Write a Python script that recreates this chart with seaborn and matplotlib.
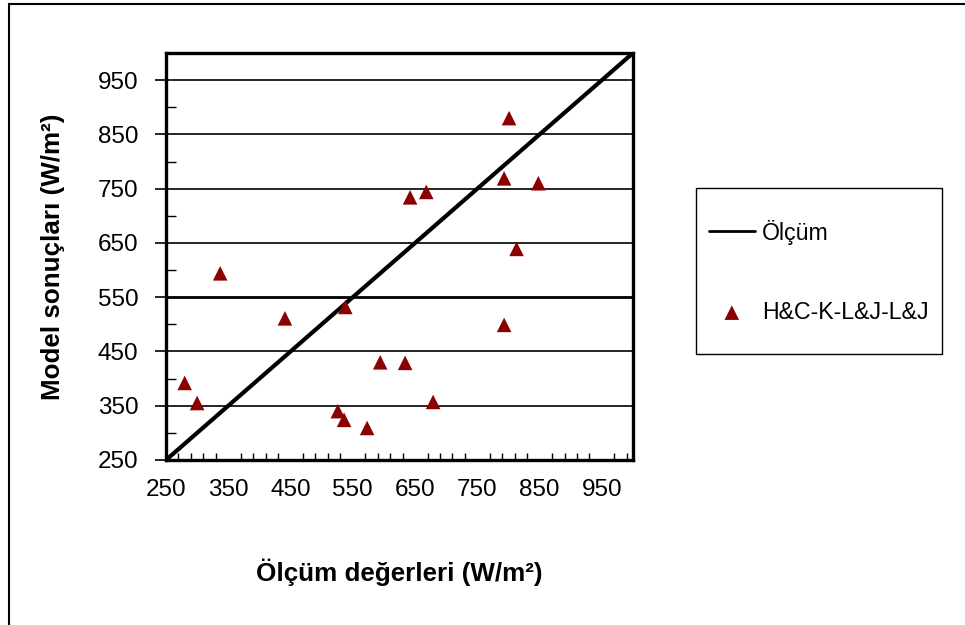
import matplotlib
matplotlib.use("Agg")
import matplotlib.pyplot as plt
import seaborn as sns
import numpy as np
import pandas as pd
from matplotlib.patches import Rectangle
from matplotlib.ticker import FixedLocator

# ---- data ----
olcum_degerleri = [280, 300, 337, 441, 538, 526, 536, 573, 594, 634, 679, 642, 668, 793, 801, 813, 848, 793]
model_sonuclari = [392, 355, 594, 511, 532, 340, 324, 309, 430, 429, 357, 734, 744, 769, 880, 639, 760, 499]
olcum_line = [250, 1000]
x_ticks = [250, 350, 450, 550, 650, 750, 850, 950]
y_ticks = [250, 350, 450, 550, 650, 750, 850, 950]
series_line = "Ölçüm"
series_pts = "H&C-K-L&J-L&J"
xlabel = "Ölçüm değerleri (W/m²)"
ylabel = "Model sonuçları (W/m²)"

sns.set_theme(style="white")
plt.rcParams["font.family"] = ["Liberation Sans", "DejaVu Sans"]

fig = plt.figure(figsize=(9.65, 6.25), dpi=100)
W, H = 965, 625
ax = fig.add_axes([166 / W, 1 - 460 / H, 467 / W, 407 / H])

df_pts = pd.DataFrame({"x": olcum_degerleri, "y": model_sonuclari})
df_line = pd.DataFrame({"x": olcum_line, "y": olcum_line})

sns.lineplot(data=df_line, x="x", y="y", ax=ax, color="black", linewidth=3,
             label=series_line, zorder=3)
sns.scatterplot(data=df_pts, x="x", y="y", ax=ax, marker="^", s=110,
                color="#8B0000", edgecolor="none", linewidth=0,
                label=series_pts, zorder=4)

ax.set_xlim(250, 1000)
ax.set_ylim(250, 1000)
ax.set_xticks(x_ticks)
ax.set_yticks(y_ticks)
ax.xaxis.set_minor_locator(FixedLocator(np.arange(270, 1000, 20)))
ax.yaxis.set_minor_locator(FixedLocator(np.arange(300, 1000, 100)))

ax.tick_params(axis="x", which="major", direction="inout", length=9, width=1.2,
               color="black", labelsize=17.5, pad=9, labelcolor="black")
ax.tick_params(axis="x", which="minor", direction="in", length=5, width=1,
               color="black", bottom=True)
ax.tick_params(axis="y", which="major", direction="out", length=8, width=1.2,
               color="black", labelsize=17.5, pad=12, labelcolor="black", left=True)
ax.tick_params(axis="y", which="minor", direction="in", length=7, width=1,
               color="black", left=True)

ax.yaxis.grid(True, color="black", linewidth=1.2)
ax.xaxis.grid(False)
gl = ax.get_ygridlines()
if len(gl) > 3:
    gl[3].set_linewidth(2.0)
ax.set_axisbelow(True)

for sp in ax.spines.values():
    sp.set_visible(True)
    sp.set_color("black")
    sp.set_linewidth(2.4)

ax.set_xlabel(xlabel, fontsize=18.7, fontweight="bold", color="black")
ax.set_ylabel(ylabel, fontsize=18.7, fontweight="bold", color="black")
ax.xaxis.label.set_va("center")
ax.xaxis.set_label_coords(0.5, (460 - 572) / 407)
ax.yaxis.label.set_va("center")
ax.yaxis.set_label_coords((53 - 166) / 467, 0.5)

handles, labels = ax.get_legend_handles_labels()
if ax.legend_:
    ax.legend_.remove()
leg = fig.legend(handles, labels, loc="upper left",
                 bbox_to_anchor=(697 / W, 1 - 208 / H), frameon=False,
                 fontsize=16.7, labelspacing=2.42, handlelength=2.0,
                 handletextpad=0.3, borderpad=0, scatterpoints=1)
for t in leg.get_texts():
    t.set_color("black")
leg.get_lines()[0].set_linewidth(2)

fig.patches.append(Rectangle((696 / W, 1 - 354 / H), (942 - 696) / W, (354 - 188) / H,
                             transform=fig.transFigure, fill=False, lw=1.0,
                             edgecolor="black"))
fig.patches.append(Rectangle((9 / W, -0.1), 1.2, 1 - 4 / H + 0.1,
                             transform=fig.transFigure, fill=False, lw=1.5,
                             edgecolor="black"))

fig.savefig("out.png", dpi=100, facecolor="white")
